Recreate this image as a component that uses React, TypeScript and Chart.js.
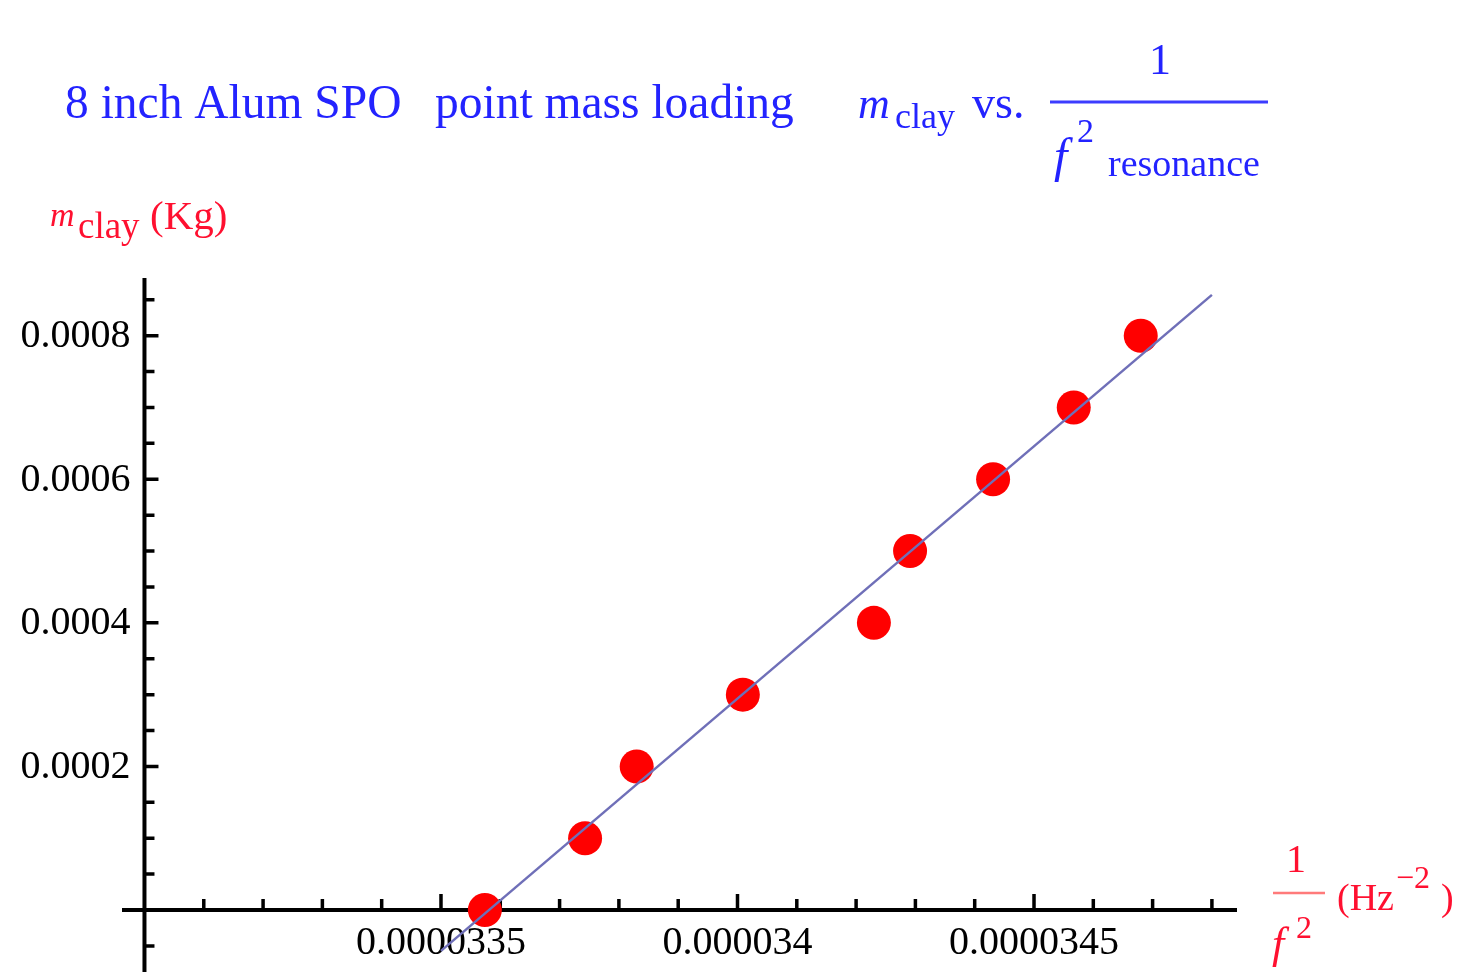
import React, { useEffect, useRef } from "react";
import { Chart, registerables } from "chart.js";

Chart.register(...registerables);

// ---- data ----
const xValues = [3.3574e-5, 3.3743e-5, 3.383e-5, 3.4009e-5, 3.423e-5, 3.4291e-5, 3.4431e-5, 3.4567e-5, 3.468e-5];
const yValues = [0, 0.0001, 0.0002, 0.0003, 0.0004, 0.0005, 0.0006, 0.0007, 0.0008];
const fitX = [0.0000335, 0.0000348];
const fitY = [-0.0000569, 0.0008569];

const xMajorTicks = [0.0000335, 0.000034, 0.0000345];
const xTickLabels = ["0.0000335", "0.000034", "0.0000345"];
const yMajorTicks = [0.0002, 0.0004, 0.0006, 0.0008];
const yTickLabels = ["0.0002", "0.0004", "0.0006", "0.0008"];
const xMinorStepCount = [331, 348]; // in units of 1e-7
const yMinorStepCount = [-1, 17]; // in units of 0.00005
const xOrigin = 0.000033;
const yOrigin = 0;

const X_MIN = 3.29621e-5;
const X_MAX = 3.48423e-5;
const Y_MIN = -0.00008636;
const Y_MAX = 0.00088035;

const BLUE = "#2323ff";
const RED = "#ff1030";
const SERIF = "'Liberation Serif', 'DejaVu Serif', serif";

function txt(
  ctx: CanvasRenderingContext2D,
  s: string,
  x: number,
  y: number,
  size: number,
  color: string,
  italic = false,
  align: CanvasTextAlign = "left",
  baseline: CanvasTextBaseline = "alphabetic"
) {
  ctx.save();
  ctx.font = `${italic ? "italic " : ""}${size}px ${SERIF}`;
  ctx.fillStyle = color;
  ctx.textAlign = align;
  ctx.textBaseline = baseline;
  ctx.fillText(s, x, y);
  ctx.restore();
}

const axesPlugin = {
  id: "mathematicaAxes",
  beforeDatasetsDraw(chart: any) {
    const ctx: CanvasRenderingContext2D = chart.ctx;
    const { left, right, top, bottom } = chart.chartArea;
    const xs = chart.scales.x;
    const ys = chart.scales.y;
    const x0 = xs.getPixelForValue(xOrigin);
    const y0 = ys.getPixelForValue(yOrigin);
    ctx.save();
    ctx.strokeStyle = "#000";
    ctx.lineCap = "butt";
    ctx.lineWidth = 4;
    ctx.beginPath();
    ctx.moveTo(left, y0);
    ctx.lineTo(right, y0);
    ctx.moveTo(x0, top);
    ctx.lineTo(x0, bottom);
    ctx.stroke();

    ctx.lineWidth = 3.5;
    ctx.beginPath();
    for (let i = xMinorStepCount[0]; i <= xMinorStepCount[1]; i++) {
      const v = i * 1e-7;
      const isMajor = i % 5 === 0;
      const px = xs.getPixelForValue(v);
      ctx.moveTo(px, y0);
      ctx.lineTo(px, y0 - (isMajor ? 16 : 11));
    }
    for (let i = yMinorStepCount[0]; i <= yMinorStepCount[1]; i++) {
      if (i === 0) continue;
      const v = i * 0.00005;
      const isMajor = i % 4 === 0;
      const py = ys.getPixelForValue(v);
      ctx.moveTo(x0, py);
      ctx.lineTo(x0 + (isMajor ? 14 : 10), py);
    }
    ctx.stroke();
    ctx.restore();

    xMajorTicks.forEach((v, i) => {
      txt(ctx, xTickLabels[i], xs.getPixelForValue(v), y0 + 33, 40, "#000", false, "center", "middle");
    });
    yMajorTicks.forEach((v, i) => {
      txt(ctx, yTickLabels[i], x0 - 14, ys.getPixelForValue(v) + 1, 40, "#000", false, "right", "middle");
    });
  },
  afterDraw(chart: any) {
    const ctx: CanvasRenderingContext2D = chart.ctx;
    txt(ctx, "8 inch Alum SPO", 65, 118, 47.5, BLUE);
    txt(ctx, "point mass loading", 435, 118, 47.5, BLUE);
    txt(ctx, "m", 858, 118, 44, BLUE, true);
    txt(ctx, "clay", 895, 128, 36, BLUE);
    txt(ctx, "vs.", 972, 118, 46, BLUE);
    ctx.save();
    ctx.strokeStyle = "#3c3cff";
    ctx.lineWidth = 3;
    ctx.beginPath();
    ctx.moveTo(1050, 102);
    ctx.lineTo(1268, 102);
    ctx.stroke();
    ctx.restore();
    txt(ctx, "1", 1160, 74, 44, BLUE, false, "center");
    txt(ctx, "f", 1054, 172, 48, BLUE, true);
    txt(ctx, "2", 1077, 142, 34, BLUE);
    txt(ctx, "resonance", 1108, 176, 38, BLUE);

    txt(ctx, "m", 50, 226, 34, RED, true);
    txt(ctx, "clay", 78, 238, 37, RED);
    txt(ctx, "(Kg)", 150, 229, 41, RED);

    txt(ctx, "1", 1296, 872, 40, RED, false, "center");
    ctx.save();
    ctx.strokeStyle = "#ff7a7a";
    ctx.lineWidth = 2.5;
    ctx.beginPath();
    ctx.moveTo(1273, 893);
    ctx.lineTo(1325, 893);
    ctx.stroke();
    ctx.restore();
    txt(ctx, "f", 1272, 958, 44, RED, true);
    txt(ctx, "2", 1296, 938, 32, RED);
    txt(ctx, "(Hz", 1337, 910, 38, RED);
    txt(ctx, "\u22122", 1396, 888, 32, RED);
    txt(ctx, ")", 1441, 910, 38, RED);
  },
};

export default function App() {
  const ref = useRef<HTMLCanvasElement | null>(null);
  useEffect(() => {
    document.body.style.margin = "0";
    const canvas = ref.current;
    if (!canvas) return;
    const chart = new Chart(canvas, {
      type: "scatter",
      data: {
        datasets: [
          {
            label: "fit",
            data: fitX.map((x, i) => ({ x, y: fitY[i] })),
            showLine: true,
            borderColor: "#6f6fb8",
            borderWidth: 2.5,
            pointRadius: 0,
            order: 0,
          } as any,
          {
            label: "data",
            data: xValues.map((x, i) => ({ x, y: yValues[i] })),
            backgroundColor: "#ff0000",
            borderWidth: 0,
            pointRadius: 17,
            order: 1,
          },
        ],
      },
      options: {
        animation: false,
        responsive: false,
        devicePixelRatio: 1,
        layout: { autoPadding: false, padding: { left: 122, right: 221, top: 278, bottom: 4 } },
        plugins: { legend: { display: false }, tooltip: { enabled: false }, title: { display: false } },
        scales: {
          x: { type: "linear", min: X_MIN, max: X_MAX, display: false, bounds: "data", grace: 0 },
          y: { type: "linear", min: Y_MIN, max: Y_MAX, display: false, bounds: "data", grace: 0 },
        },
      },
      plugins: [axesPlugin],
    });
    return () => chart.destroy();
  }, []);
  return (
    <div style={{ width: 1458, height: 976, position: "relative", background: "#fff" }}>
      <canvas ref={ref} width={1458} height={976} style={{ display: "block", width: 1458, height: 976 }} />
    </div>
  );
}
